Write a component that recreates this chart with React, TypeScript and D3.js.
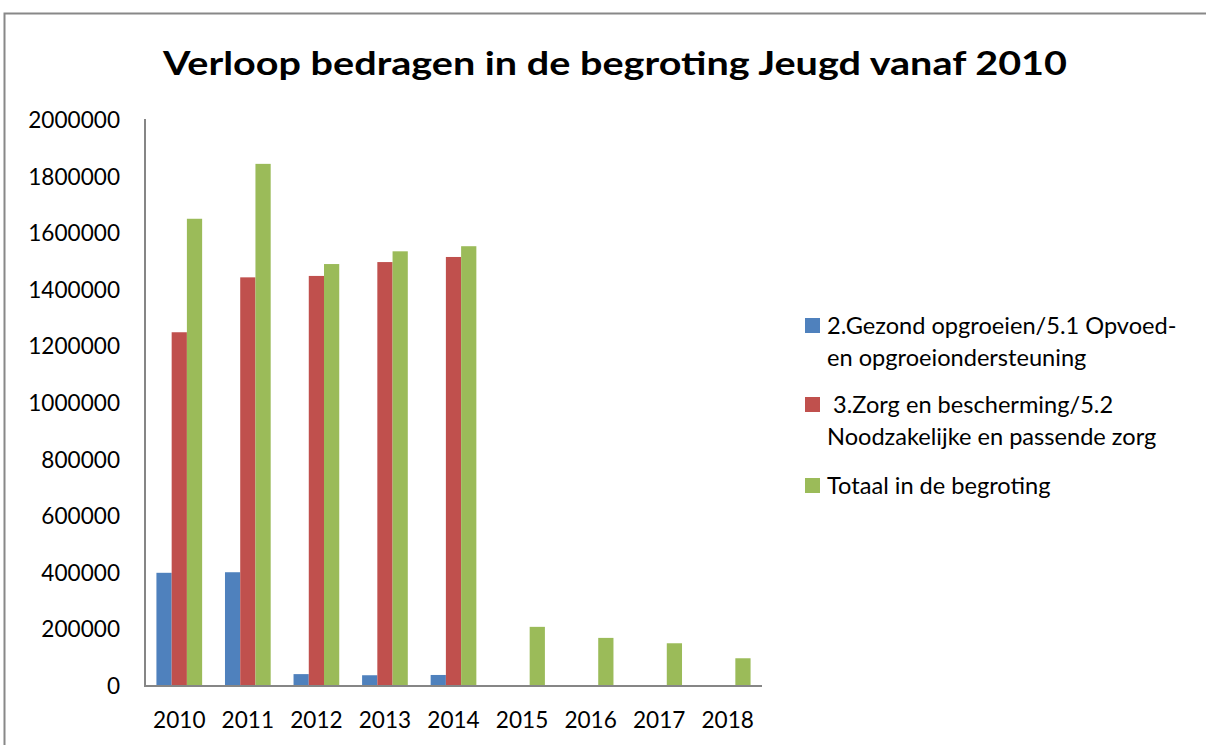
import React from "react";
import * as d3 from "d3";

const categories = ["2010", "2011", "2012", "2013", "2014", "2015", "2016", "2017", "2018"];
const seriesNames = [
  "2.Gezond opgroeien/5.1 Opvoed-|en opgroeiondersteuning",
  " 3.Zorg en bescherming/5.2|Noodzakelijke en passende zorg",
  "Totaal in de begroting",
];
const gezond: (number | null)[] = [400000, 402000, 42000, 38000, 39000, null, null, null, null];
const zorg: (number | null)[] = [1250000, 1444000, 1449000, 1498000, 1516000, null, null, null, null];
const totaal: (number | null)[] = [1651000, 1845000, 1491000, 1536000, 1554000, 209000, 170000, 151000, 98000];
const yTicks = [0, 200000, 400000, 600000, 800000, 1000000, 1200000, 1400000, 1600000, 1800000, 2000000];
const colors = ["#4F81BD", "#C0504D", "#9BBB59"];
const title = "Verloop bedragen in de begroting Jeugd vanaf 2010";

export default function App() {
  const W = 1206, H = 745;
  const left = 145, right = 762, top = 120, bottom = 686;
  const x = d3.scaleBand<string>().domain(categories).range([left, right]).paddingInner(1 / 3).paddingOuter(1 / 6);
  const xs = d3.scaleBand<number>().domain([0, 1, 2]).range([0, x.bandwidth()]);
  const y = d3.scaleLinear().domain([0, 2000000]).range([bottom, top]);
  const series = [gezond, zorg, totaal];
  const font = "Lato, 'Open Sans', sans-serif";

  const legendY = [318, 397, 478];

  return (
    <svg width={W} height={H} style={{ position: "absolute", left: 0, top: 0, background: "#fff" }} fontFamily={font}>
      <rect x={0} y={0} width={W} height={H} fill="#fff" />
      <rect x={4.5} y={13.5} width={W + 10} height={H + 10} fill="none" stroke="#888" strokeWidth={2} />
      <text x={615} y={75} textAnchor="middle" fontSize={32} fontWeight="bold" fill="#000" textLength={904} lengthAdjust="spacingAndGlyphs">
        {title}
      </text>
      {series.map((s, si) =>
        s.map((v, i) =>
          v == null ? null : (
            <rect
              key={`${si}-${i}`}
              x={(x(categories[i]) as number) + (xs(si) as number)}
              y={y(v)}
              width={xs.bandwidth()}
              height={y(0) - y(v)}
              fill={colors[si]}
            />
          )
        )
      )}
      <line x1={left} x2={left} y1={top - 1} y2={bottom} stroke="#868686" strokeWidth={2} />
      <line x1={left - 1} x2={right} y1={bottom} y2={bottom} stroke="#868686" strokeWidth={2} />
      {yTicks.map((t) => (
        <text key={t} x={120} y={y(t)} dy="0.35em" textAnchor="end" fontSize={22.6} fill="#000">
          {t}
        </text>
      ))}
      {categories.map((c) => (
        <text key={c} x={(x(c) as number) + x.bandwidth() / 2} y={720} dy="0.35em" textAnchor="middle" fontSize={22.6} fill="#000">
          {c}
        </text>
      ))}
      {seriesNames.map((n, i) => {
        const lines = n.split("|");
        return (
          <g key={n}>
            <rect x={805} y={legendY[i]} width={15} height={15} fill={colors[i]} />
            {lines.map((l, li) => (
              <text key={li} x={827} y={legendY[i] + 7.5 + li * 32} dy="0.35em" fontSize={23.6} fill="#000" style={{ whiteSpace: "pre" }}>
                {l}
              </text>
            ))}
          </g>
        );
      })}
    </svg>
  );
}
